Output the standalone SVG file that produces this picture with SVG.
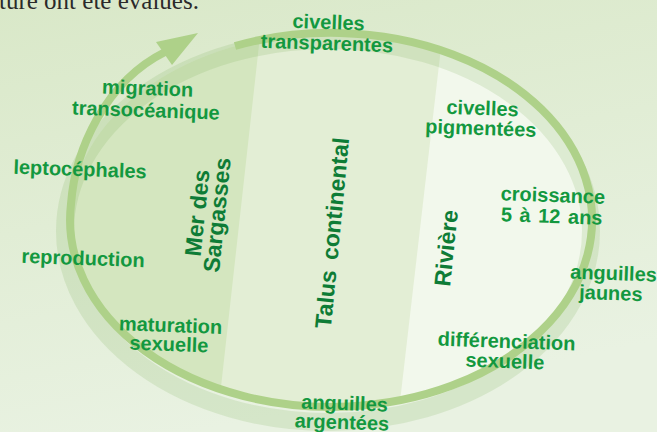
<svg xmlns="http://www.w3.org/2000/svg" width="657" height="432" viewBox="0 0 657 432">
<defs>
<linearGradient id="bg" x1="0" y1="0" x2="0.3" y2="1">
<stop offset="0" stop-color="#d9e8c8"/>
<stop offset="1" stop-color="#e9f2e2"/>
</linearGradient>
<clipPath id="inside"><ellipse cx="331" cy="220" rx="261" ry="187"/></clipPath>
<style>
.lbl{font-family:"Liberation Sans",Arial,sans-serif;font-weight:bold;font-size:20px;fill:#13983f;text-anchor:middle}
.lbs{font-family:"Liberation Sans",Arial,sans-serif;font-weight:bold;font-size:20px;fill:#13983f}
.zone{font-family:"Liberation Sans",Arial,sans-serif;font-weight:bold;font-size:23px;fill:#0e7c36;text-anchor:middle}
.ring{fill:none;stroke:#aed189;stroke-width:8}
</style>
</defs>
<rect width="657" height="432" fill="url(#bg)"/>
<text x="-1" y="9" font-family="Liberation Serif,serif" font-size="25" fill="#2a2a2a">ture ont été évalués.</text>

<g id="zones">
<g clip-path="url(#inside)">
<rect x="0" y="0" width="657" height="432" fill="#e3eed5"/>
<polygon points="0,0 264,0 216,432 0,432" fill="#d4e6bf"/>
<polygon points="446.5,0 657,0 657,432 396.5,432" fill="#f2f8ec"/>
</g>
<ellipse cx="328" cy="231" rx="263" ry="191" fill="none" stroke="#6fa84a" stroke-opacity="0.16" stroke-width="18"/>
</g>

<g id="connectors">
<path class="ring" d="M235,46 A261,187 0 1 1 71,204 C75,150 105,82 165,52"/>
<polygon points="198,33 156,42 172,65" fill="#aed189"/>
</g>

<g id="zone-sargasses"><text class="zone" transform="translate(208,214) rotate(-84)"><tspan x="0" y="-3">Mer des</tspan><tspan x="0" y="17">Sargasses</tspan></text></g>
<g id="zone-talus"><text class="zone" transform="translate(332,233) rotate(-84.5)" y="8" word-spacing="4">Talus continental</text></g>
<g id="zone-riviere"><text class="zone" transform="translate(446,248) rotate(-84)" y="8">Rivière</text></g>

<g id="civelles-transparentes" transform="rotate(2 328 40)"><text class="lbl"><tspan x="328" y="29">civelles</tspan><tspan x="327" y="50">transparentes</tspan></text></g>
<g id="civelles-pigmentees" transform="rotate(2 482 125)"><text class="lbl"><tspan x="482" y="115">civelles</tspan><tspan x="481" y="135">pigmentées</tspan></text></g>
<g id="croissance" transform="rotate(2 552 212)"><text class="lbs"><tspan x="500" y="202">croissance</tspan><tspan x="501" y="223" word-spacing="2">5 à 12 ans</tspan></text></g>
<g id="anguilles-jaunes" transform="rotate(2 612 290)"><text class="lbl"><tspan x="613" y="280">anguilles</tspan><tspan x="611" y="300">jaunes</tspan></text></g>
<g id="differenciation" transform="rotate(2 506 358)"><text class="lbl"><tspan x="506" y="348">différenciation</tspan><tspan x="505" y="368">sexuelle</tspan></text></g>
<g id="anguilles-argentees" transform="rotate(2 343 420)"><text class="lbl"><tspan x="344" y="410">anguilles</tspan><tspan x="342" y="429">argentées</tspan></text></g>
<g id="maturation" transform="rotate(2 170 342)"><text class="lbl"><tspan x="170" y="332">maturation</tspan><tspan x="169" y="351">sexuelle</tspan></text></g>
<g id="reproduction" transform="rotate(2 83 260)"><text class="lbl" x="83" y="265">reproduction</text></g>
<g id="leptocephales" transform="rotate(2 80 170)"><text class="lbl" x="80" y="176">leptocéphales</text></g>
<g id="migration" transform="rotate(2 146 106)"><text class="lbl"><tspan x="147" y="95">migration</tspan><tspan x="146" y="117">transocéanique</tspan></text></g>
</svg>
